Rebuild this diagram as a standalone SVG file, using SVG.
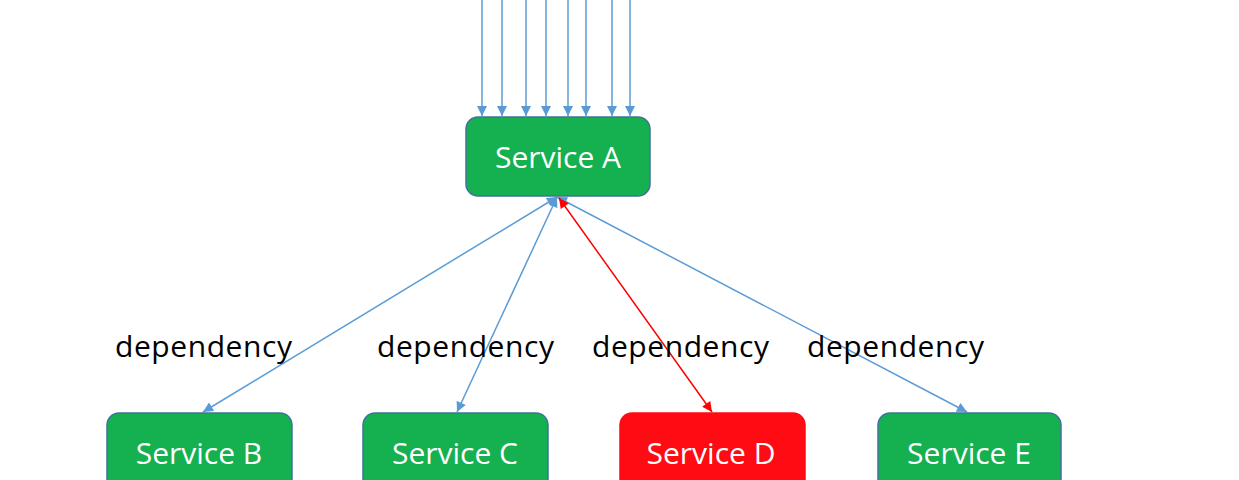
<svg xmlns="http://www.w3.org/2000/svg" width="1239" height="480" viewBox="0 0 1239 480">
<style>
.box{fill:#15B04F;stroke:#41719C;stroke-width:1.5}
.red{fill:#FF0B14;stroke:#FF0B14;stroke-width:1.5}
.t{font-family:"Open Sans","Liberation Sans",Arial,sans-serif;font-size:30px;font-weight:500;fill:#fff;text-anchor:middle}
.lbl{font-family:"Open Sans","Liberation Sans",Arial,sans-serif;font-size:30px;font-weight:500;fill:#000}
.ln{stroke:#5B9BD5;stroke-width:1.5;fill:none}
.lr{stroke:#FF0000;stroke-width:1.5;fill:none}
</style>
<defs>
<marker id="ab" viewBox="0 0 10 10" refX="10" refY="5" markerWidth="11" markerHeight="10" markerUnits="userSpaceOnUse" orient="auto-start-reverse"><path d="M0,0 L10,5 L0,10 z" fill="#5B9BD5"/></marker>
<marker id="ar" viewBox="0 0 10 10" refX="10" refY="5" markerWidth="11" markerHeight="10" markerUnits="userSpaceOnUse" orient="auto-start-reverse"><path d="M0,0 L10,5 L0,10 z" fill="#FF0000"/></marker>
</defs>
<rect width="1239" height="480" fill="#fff"/>
<g id="connectors">
<line class="ln" x1="482" y1="0" x2="482" y2="116" marker-end="url(#ab)"/>
<line class="ln" x1="502" y1="0" x2="502" y2="116" marker-end="url(#ab)"/>
<line class="ln" x1="526" y1="0" x2="526" y2="116" marker-end="url(#ab)"/>
<line class="ln" x1="546" y1="0" x2="546" y2="116" marker-end="url(#ab)"/>
<line class="ln" x1="568" y1="0" x2="568" y2="116" marker-end="url(#ab)"/>
<line class="ln" x1="586" y1="0" x2="586" y2="116" marker-end="url(#ab)"/>
<line class="ln" x1="612" y1="0" x2="612" y2="116" marker-end="url(#ab)"/>
<line class="ln" x1="630" y1="0" x2="630" y2="116" marker-end="url(#ab)"/>
<line class="ln" x1="557" y1="197" x2="203" y2="412" marker-start="url(#ab)" marker-end="url(#ab)"/>
<line class="ln" x1="557" y1="197" x2="457" y2="412" marker-start="url(#ab)" marker-end="url(#ab)"/>
<line class="ln" x1="557" y1="197" x2="967" y2="412" marker-start="url(#ab)" marker-end="url(#ab)"/>
<line class="lr" x1="559" y1="198" x2="712" y2="412" marker-start="url(#ar)" marker-end="url(#ar)"/>
<text class="lbl" x="115" y="357" textLength="177" lengthAdjust="spacing">dependency</text>
<text class="lbl" x="377" y="357" textLength="177" lengthAdjust="spacing">dependency</text>
<text class="lbl" x="592" y="357" textLength="177" lengthAdjust="spacing">dependency</text>
<text class="lbl" x="807" y="357" textLength="177" lengthAdjust="spacing">dependency</text>
</g>
<g id="serviceA"><rect class="box" x="466" y="117" width="184" height="79" rx="12"/><text class="t" x="558" y="168">Service A</text></g>
<g id="serviceB"><rect class="box" x="107" y="413" width="185" height="80" rx="12"/><text class="t" x="199" y="464">Service B</text></g>
<g id="serviceC"><rect class="box" x="363" y="413" width="185" height="80" rx="12"/><text class="t" x="455" y="464">Service C</text></g>
<g id="serviceD"><rect class="red" x="620" y="413" width="185" height="80" rx="12"/><text class="t" x="711" y="464">Service D</text></g>
<g id="serviceE"><rect class="box" x="878" y="413" width="183" height="80" rx="12"/><text class="t" x="969" y="464">Service E</text></g>
</svg>
